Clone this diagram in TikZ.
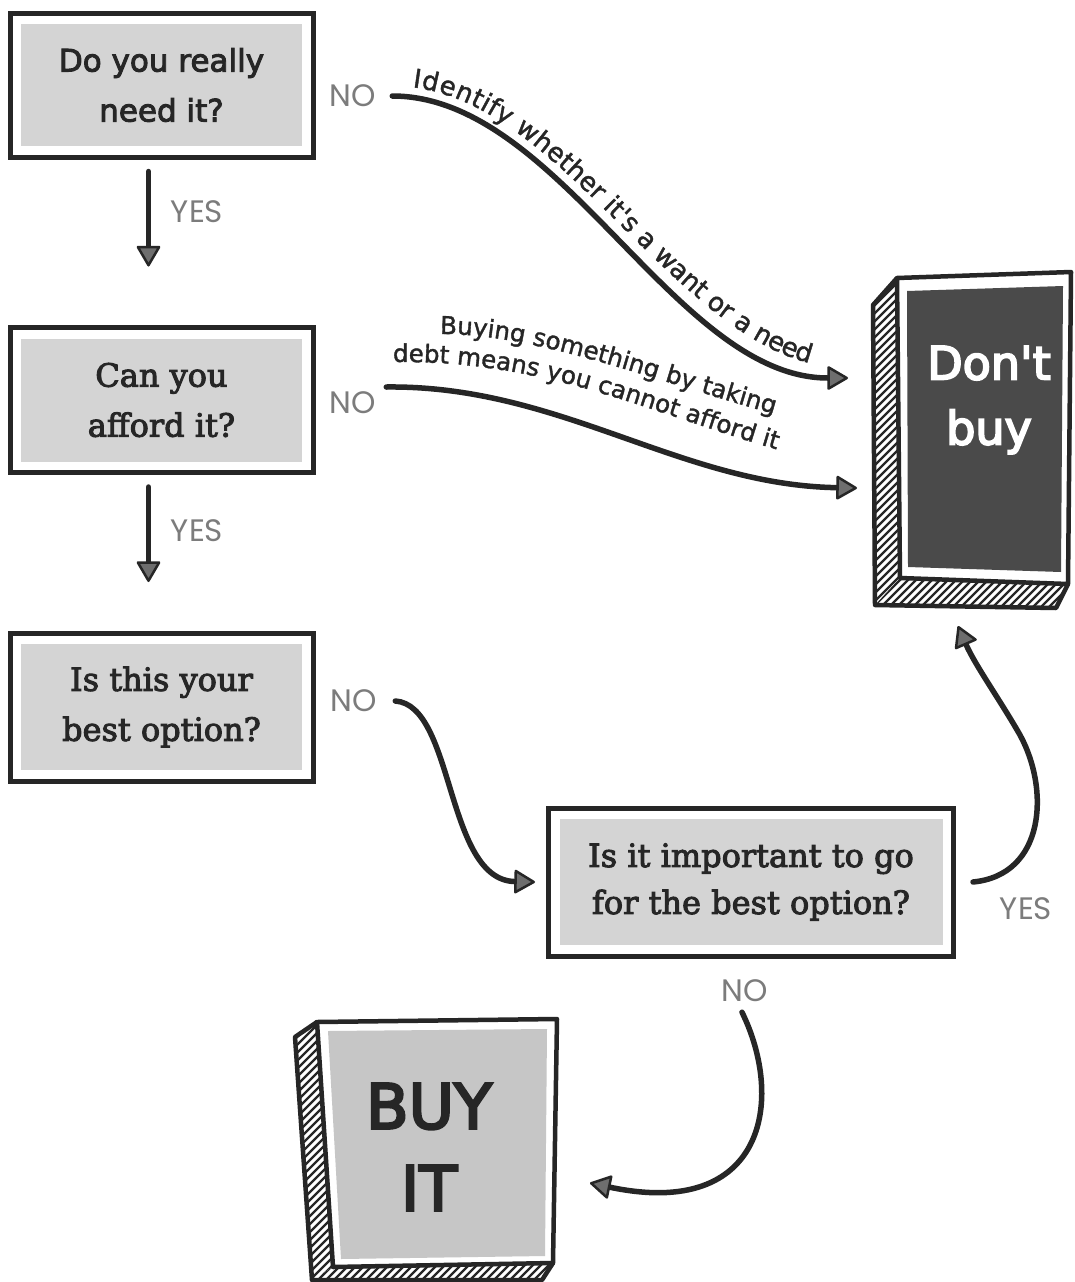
\documentclass[tikz,border=0pt]{standalone}
\usepackage{fontspec}
\usetikzlibrary{arrows.meta,decorations.text}
\setmainfont{DejaVu Serif}
\newfontfamily\boxserif{DejaVu Serif}[FakeBold=3]
\newfontfamily\comicfont{DejaVu Sans}[FakeBold=3]
\newfontfamily\bigfont{DejaVu Sans}[FakeBold=4]
\newfontfamily\curvefont{DejaVu Sans}[FakeBold=1.5]
\newfontfamily\labelfont{Poppins}
\definecolor{ink}{HTML}{262626}
\definecolor{boxgray}{HTML}{D4D4D4}
\definecolor{buygray}{HTML}{C6C6C6}
\definecolor{darkfill}{HTML}{4A4A4A}
\definecolor{lblgray}{HTML}{7C7C7C}
\definecolor{tipgray}{HTML}{6E6E6E}
\begin{document}
\begin{tikzpicture}[x=1pt,y=-1pt,
  qbox/.style={draw=ink, line width=5pt, fill=white, inner sep=0pt,
    minimum width=303pt, minimum height=146pt, align=center, text=ink,
    path picture={\fill[boxgray]
      ([shift={(11pt,-11pt)}]path picture bounding box.north west) rectangle
      ([shift={(-11pt,11pt)}]path picture bounding box.south east);}},
  serifq/.style={font=\boxserif\fontsize{32}{50}\selectfont},
  comicq/.style={font=\comicfont\fontsize{31}{50}\selectfont},
  lbl/.style={font=\labelfont\fontsize{31}{31}\selectfont, text=lblgray, inner sep=0pt},
  bigtxt/.style={align=center, inner sep=0pt},
  flow/.style={draw=ink, line width=5.5pt, line cap=round,
    -{Triangle[length=22pt,width=25pt,line width=2.5pt,fill=tipgray,round]}},
  hatch/.style={draw=ink, line width=2.4pt},
  edge3d/.style={draw=ink, line width=4.5pt, line join=round},
  curvetext/.style={decorate, decoration={text along path, raise=#1,
    text color=ink}},
]
% canvas
\fill[white] (0,0) rectangle (1074,1282);
\useasboundingbox (0,0) rectangle (1074,1282);

% question boxes
\node[qbox, comicq, minimum height=144pt] (q1) at (161.5,85) {Do you really\\need it?};
\node[qbox, serifq, minimum height=145pt] (q2) at (161.5,400) {Can you\\afford it?};
\node[qbox, serifq, minimum height=148pt] (q3) at (161.5,707) {Is this your\\best option?};
\node[qbox, font=\boxserif\fontsize{32}{47}\selectfont, minimum width=405pt, minimum height=148pt]
  (q4) at (751,882) {Is it important to go\\for the best option?};

% answer labels
\node[lbl] (no1) at (353,96) {NO};
\node[lbl] (yes1) at (197,212) {YES};
\node[lbl] (no2) at (353,403) {NO};
\node[lbl] (yes2) at (197,531) {YES};
\node[lbl] (no3) at (354,701) {NO};
\node[lbl] (yes4) at (1026,909) {YES};
\node[lbl] (no4) at (745,991) {NO};

% "Don't buy" block: hatched side and base, then the front face
\begin{scope}
  \clip (873,305) -- (897,278) -- (900,578) -- (875,605) -- cycle;
  \fill[white] (860,260) rectangle (910,620);
  \foreach \k in {0,...,50} \draw[hatch] (850,290+8*\k) -- ++(70,-70);
\end{scope}
\begin{scope}
  \clip (900,578) -- (1068,584) -- (1056,608) -- (875,605) -- cycle;
  \fill[white] (860,570) rectangle (1074,620);
  \foreach \k in {0,...,27} \draw[hatch] (860+8*\k,620) -- ++(45,-45);
\end{scope}
\draw[edge3d] (897,278) -- (873,305) -- (875,605) -- (1056,608) -- (1068,584);
\filldraw[edge3d, fill=white] (897,278) -- (1071,272) -- (1068,584) -- (900,578) -- cycle;
\fill[darkfill] (907,291) -- (1063,286) -- (1061,572) -- (908,567) -- cycle;
\node[bigtxt, text=white, font=\bigfont\fontsize{46}{65}\selectfont]
  (dontbuy) at (989,400) {Don't\\buy};

% "BUY IT" block
\begin{scope}
  \clip (295,1037) -- (317,1022) -- (333,1267) -- (312,1290) -- cycle;
  \fill[white] (285,1010) rectangle (340,1290);
  \foreach \k in {0,...,40} \draw[hatch] (280,1030+8*\k) -- ++(70,-70);
\end{scope}
\begin{scope}
  \clip (333,1267) -- (553,1263) -- (542,1280) -- (312,1280) -- cycle;
  \fill[white] (300,1255) rectangle (560,1285);
  \foreach \k in {0,...,32} \draw[hatch] (300+8*\k,1290) -- ++(40,-40);
\end{scope}
\draw[edge3d] (317,1022) -- (295,1037) -- (312,1280) -- (542,1280) -- (553,1263);
\filldraw[edge3d, fill=white] (317,1022) -- (557,1019) -- (553,1263) -- (333,1267) -- cycle;
\fill[buygray] (328,1031) -- (547,1029) -- (545,1256) -- (341,1259) -- cycle;
\node[bigtxt, text=ink, font=\bigfont\fontsize{62}{82}\selectfont]
  (buyit) at (429,1147) {BUY\\IT};

% arrow end points
\coordinate (dbA) at (848,378);
\coordinate (dbB) at (857,488);
\coordinate (dbC) at (958,626);
\coordinate (biA) at (590,1183);

% YES arrows down the left column
\draw[flow] ([xshift=-13pt,yshift=-12pt]q1.south) -- ++(0,95);
\draw[flow] ([xshift=-13pt,yshift=-12pt]q2.south) -- ++(0,95);

% NO arrows towards "Don't buy"
\draw[flow] ([xshift=16pt]no1.east) .. controls (560,96) and (675,378) .. (dbA);
\path[curvetext=10pt, decoration={text align/left indent=18pt,
  text={|\curvefont\fontsize{26}{30}\selectfont|Identify whether it's a want or a need}}]
  (393,96) .. controls (560,96) and (675,378) .. (848,378);

\draw[flow] ([xshift=10pt,yshift=16pt]no2.east) .. controls (560,385) and (680,485) .. (dbB);
\path[curvetext=0pt, decoration={
  text={|\curvefont\fontsize{24.5}{28}\selectfont|Buying something by taking}}]
  (440,334) .. controls (540,334) and (650,380) .. (795,420);
\path[curvetext=0pt, decoration={
  text={|\curvefont\fontsize{24.5}{28}\selectfont|debt means you cannot afford it}}]
  (393,362) .. controls (560,360) and (660,420) .. (815,460);

% best-option branch
\draw[flow] ([xshift=18pt]no3.east) .. controls (455,705) and (445,880) .. ([xshift=-11pt]q4.west);
\draw[flow] ([xshift=17pt]q4.east) .. controls (1045,875) and (1050,790) .. (1020,735)
  .. controls (1000,700) and (975,665) .. (dbC);
\draw[flow] ([xshift=-3pt,yshift=-10pt]no4.south) .. controls (785,1100) and (765,1220) .. (biA);
\end{tikzpicture}
\end{document}
